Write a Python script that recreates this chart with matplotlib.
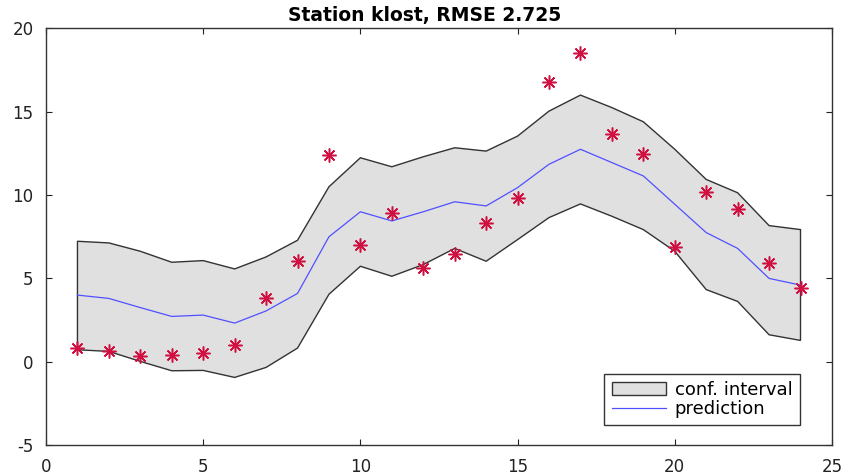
import numpy as np
import matplotlib
matplotlib.use("Agg")
import matplotlib.pyplot as plt

# hours 1..24 for station klost
hours = np.arange(1, 25)
observed = [0.8, 0.65, 0.35, 0.4, 0.5, 1.0, 3.85, 6.05, 12.4, 7.0, 8.95, 5.65,
            6.45, 8.3, 9.85, 16.8, 18.5, 13.65, 12.45, 6.9, 10.2, 9.15, 5.95, 4.4]
prediction = [4.0, 3.8, 3.25, 2.72, 2.8, 2.32, 3.05, 4.1, 7.5, 9.0, 8.45, 9.0,
              9.6, 9.35, 10.45, 11.85, 12.75, 11.95, 11.15, 9.45, 7.75, 6.8, 5.0, 4.6]
upper = [7.23, 7.13, 6.63, 5.97, 6.07, 5.57, 6.29, 7.29, 10.5, 12.24, 11.7, 12.3,
         12.84, 12.64, 13.54, 15.04, 16.0, 15.25, 14.4, 12.75, 10.94, 10.14, 8.17, 7.93]
lower = [0.72, 0.62, 0.02, -0.54, -0.52, -0.94, -0.34, 0.82, 4.05, 5.73, 5.13, 5.83,
         6.8, 6.03, 7.33, 8.65, 9.47, 8.73, 7.93, 6.63, 4.33, 3.62, 1.62, 1.28]
rmse = 2.725

plt.rcParams['font.family'] = ['DejaVu Sans']
plt.rcParams['axes.unicode_minus'] = False

fig = plt.figure(figsize=(8.46, 4.74), dpi=100)
ax = fig.add_axes([0.0544, 0.061, 0.929, 0.879])

# confidence band as a closed polygon (MATLAB fill style)
band_x = np.concatenate([hours, hours[::-1]])
band_y = np.concatenate([upper, lower[::-1]])
ax.fill(band_x, band_y, facecolor="#e0e0e0", edgecolor="#333333", linewidth=1.0,
        label="conf. interval")
ax.plot(hours, prediction, color="#5050ff", linewidth=0.9, label="prediction")
# MATLAB-style '*' marker: 8-spoke asterisk
ax.plot(hours, observed, linestyle="none", marker=(8, 2, 0), markersize=10,
        color="#d01040", markeredgewidth=1.1)

ax.set_xlim(0, 25)
ax.set_ylim(-5, 20)
ax.set_xticks(np.arange(0, 26, 5))
ax.set_yticks(np.arange(-5, 21, 5))
ax.tick_params(direction="in", top=True, right=True, length=4, width=0.8,
               labelsize=12, colors="#222222", pad=9)
for s in ax.spines.values():
    s.set_color("#333333")
    s.set_linewidth(1.0)

ax.set_title(f"Station klost, RMSE {rmse}", fontsize=13.5, fontweight="bold",
             pad=5, x=0.482)

leg = ax.legend(loc="lower right", bbox_to_anchor=(0.959, 0.048), borderaxespad=0,
                fontsize=13, fancybox=False, framealpha=1, edgecolor="#333333",
                handlelength=3.0, handletextpad=0.5, borderpad=0.4, labelspacing=0.05)
leg.get_frame().set_linewidth(1.0)

fig.savefig("out.png", dpi=100)
